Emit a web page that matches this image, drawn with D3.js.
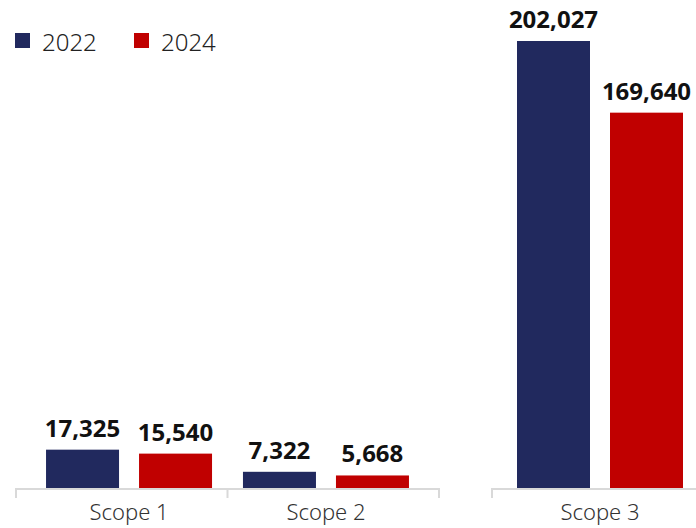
<!DOCTYPE html>
<html>
<head>
<meta charset="utf-8">
<script src="https://cdn.jsdelivr.net/npm/d3@7"></script>
<style>
	html, body { margin: 0; padding: 0; background: #fff; }
	svg { display: block; font-family: "Noto Sans", "Open Sans", sans-serif; }
</style>
</head>
<body>
<div id="chart"></div>
<script>
// --- data --- \\
var seriesNames = ["2022", "2024"];
var seriesColors = ["#21295e", "#c00000"];
var leftCategories = ["Scope 1", "Scope 2"];
var rightCategories = ["Scope 3"];
var values2022 = [17325, 7322, 202027];
var values2024 = [15540, 5668, 169640];
var allCategories = leftCategories.concat(rightCategories);

var width = 696, height = 528
	, baseY = 488, topY = 41
	, barWidth = 73, barGap = 20
	, axisColor = "#d9d9d9";

var svg = d3.select("#chart").append("svg")
	.attr("width", width)
	.attr("height", height);

// one y scale shared by both panels
var y = d3.scaleLinear()
	.domain([0, d3.max(values2022.concat(values2024))])
	.range([baseY, topY]);

// rows of data: one per category
var rows = allCategories.map(function (c, i) {
	return { cat: c, vals: [values2022[i], values2024[i]] };
});

// inner scale for the two series inside a group
var inner = d3.scaleBand()
	.domain(seriesNames)
	.range([-(barWidth + barGap / 2), barWidth + barGap / 2])
	.paddingInner(barGap / (barWidth + barGap))
	.paddingOuter(0);

function drawPanel(cats, x0, x1, padding) {
	var x = d3.scalePoint().domain(cats).range([x0, x1]).padding(padding);
	var panel = svg.append("g");

	// axis line with ticks at group boundaries
	var bounds = [x0];
	for (var i = 1; i < cats.length; i++) {
		bounds.push((x(cats[i - 1]) + x(cats[i])) / 2);
	}
	bounds.push(x1);
	panel.append("line")
		.attr("x1", x0).attr("x2", x1)
		.attr("y1", baseY + 1).attr("y2", baseY + 1)
		.attr("stroke", axisColor).attr("stroke-width", 2);
	panel.selectAll(".tick").data(bounds).enter().append("line")
		.attr("x1", function (d) { return d; })
		.attr("x2", function (d) { return d; })
		.attr("y1", baseY).attr("y2", baseY + 10)
		.attr("stroke", axisColor).attr("stroke-width", 2);

	var groups = panel.selectAll(".grp")
		.data(rows.filter(function (r) { return cats.indexOf(r.cat) >= 0; }))
		.enter().append("g")
		.attr("transform", function (d) { return "translate(" + x(d.cat) + ",0)"; });

	var bars = groups.selectAll(".bar")
		.data(function (d) {
			return d.vals.map(function (v, i) { return { s: seriesNames[i], v: v, i: i }; });
		})
		.enter();

	bars.append("rect")
		.attr("x", function (d) { return inner(d.s); })
		.attr("width", inner.bandwidth())
		.attr("y", function (d) { return y(d.v); })
		.attr("height", function (d) { return baseY - y(d.v); })
		.attr("fill", function (d) { return seriesColors[d.i]; });

	bars.append("text")
		.attr("x", function (d) { return inner(d.s) + inner.bandwidth() / 2; })
		.attr("y", function (d) { return y(d.v) - 13; })
		.attr("text-anchor", "middle")
		.attr("font-size", 24)
		.attr("font-weight", "bold")
		.attr("fill", "#111")
		.text(function (d) { return d3.format(",")(d.v); });

	groups.append("text")
		.attr("x", 0)
		.attr("y", 520)
		.attr("text-anchor", "middle")
		.attr("font-size", 22)
		.attr("font-weight", 300)
		.attr("fill", "#333")
		.text(function (d) { return d.cat; });
}

drawPanel(leftCategories, 16, 439, 0.574);
drawPanel(rightCategories, 492, 708, 0.5);

// --- legend --- \\
var legendX = [15, 134];
var legend = svg.selectAll(".legend").data(seriesNames).enter().append("g")
	.attr("transform", function (d, i) { return "translate(" + legendX[i] + ",33)"; });
legend.append("rect")
	.attr("width", 15).attr("height", 15)
	.attr("fill", function (d, i) { return seriesColors[i]; });
legend.append("text")
	.attr("x", 27).attr("y", 18)
	.attr("font-size", 24)
	.attr("font-weight", 300)
	.attr("fill", "#222")
	.text(function (d) { return d; });
</script>
</body>
</html>
